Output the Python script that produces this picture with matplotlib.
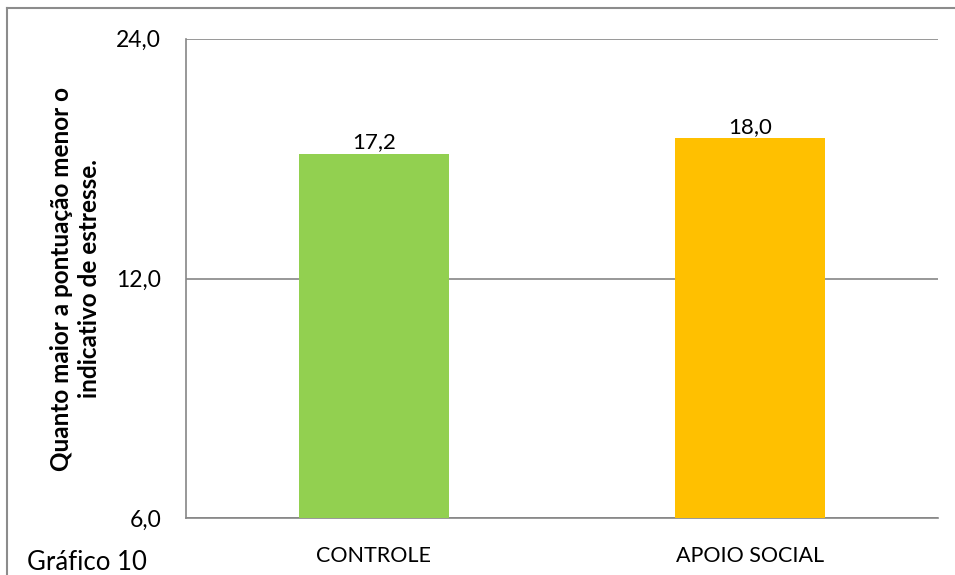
import matplotlib
matplotlib.use("Agg")
from matplotlib import pyplot as plt
from matplotlib.ticker import FixedLocator, FuncFormatter, NullLocator
from matplotlib.lines import Line2D

categorias = ['CONTROLE', 'APOIO SOCIAL']
valores = [17.2, 18.0]
cores = ['#92D050', '#FFC000']
ticks_y = [6, 12, 24]
rotulo_y = 'Quanto maior a pontuação menor o\nindicativo de estresse.'

plt.rcParams['font.family'] = ['Lato', 'DejaVu Sans']

fig = plt.figure(figsize=(9.55, 5.75), dpi=100)
ax = fig.add_axes([0.1948, 0.0986, 0.7871, 0.8341])

# moldura externa (só esquerda e topo aparecem)
fig.add_artist(Line2D([0.0073, 0.0073], [0, 0.986], transform=fig.transFigure,
                      color='#8c8c8c', lw=1.5))
fig.add_artist(Line2D([0.0073, 1.0], [0.986, 0.986], transform=fig.transFigure,
                      color='#8c8c8c', lw=1.5))

x = range(len(categorias))
barras = ax.bar(x, valores, width=0.40, color=cores, zorder=3)

ax.set_yscale('log', base=2)
ax.set_ylim(6, 24)
ax.set_xlim(-0.5, 1.5)
ax.yaxis.set_major_locator(FixedLocator(ticks_y))
ax.yaxis.set_minor_locator(NullLocator())
ax.yaxis.set_major_formatter(FuncFormatter(lambda v, p: f'{v:.1f}'.replace('.', ',')))
ax.grid(axis='y', color='#868686', lw=1.2, zorder=0)

ax.set_xticks(list(x))
ax.set_xticklabels(categorias, fontsize=15.5)
ax.tick_params(axis='y', labelsize=16.5)
ax.tick_params(axis='both', length=0)
ax.tick_params(axis='x', pad=20)
ax.tick_params(axis='y', pad=18)

for s in ['top', 'right']:
    ax.spines[s].set_visible(False)
for s in ['left', 'bottom']:
    ax.spines[s].set_color('#868686')
    ax.spines[s].set_linewidth(1.2)

for b, v in zip(barras, valores):
    ax.annotate(f'{v:.1f}'.replace('.', ','), (b.get_x() + b.get_width() / 2, v),
                xytext=(0, 1), textcoords='offset points',
                ha='center', va='bottom', fontsize=16)

ax.set_ylabel(rotulo_y, fontsize=17.5, fontweight='bold', labelpad=11,
              linespacing=1.25)

fig.text(0.028, 0.0087, 'Gráfico 10', fontsize=18.5, ha='left', va='baseline')

fig.savefig('out.png', dpi=100)
